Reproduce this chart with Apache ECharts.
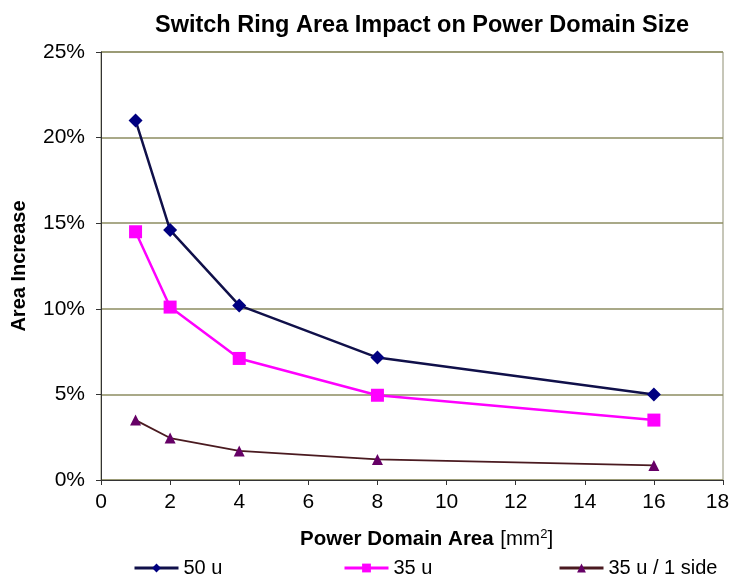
<!DOCTYPE html>
<html>
<head>
<meta charset="utf-8">
<script src="https://cdn.jsdelivr.net/npm/echarts@6/dist/echarts.min.js"></script>
<style>
html,body{margin:0;padding:0;background:#fff;}
#chart{width:731px;height:578px;}
</style>
</head>
<body>
<div id="chart"></div>
<script>
var xValues = [1, 2, 4, 8, 16];
var series50u = [21.0, 14.6, 10.2, 7.15, 5.0];
var series35u = [14.5, 10.1, 7.1, 4.95, 3.5];
var series35u1side = [3.5, 2.45, 1.7, 1.2, 0.85];
var seriesNames = ['50 u', '35 u', '35 u / 1 side'];
var xTicks = [0, 2, 4, 6, 8, 10, 12, 14, 16, 18];
var yTicks = [0, 5, 10, 15, 20, 25];

function pairs(vals) { return xValues.map(function (x, i) { return [x, vals[i]]; }); }

var FONT = 'Liberation Sans, Arial, sans-serif';
var X_MAX = xTicks[xTicks.length - 1];
var chart = echarts.init(document.getElementById('chart'));
function legendFor(i, left) {
  return {
    left: left, top: 558, padding: 0, itemWidth: 44, itemHeight: 11, itemGap: 6,
    textStyle: { fontFamily: FONT, fontSize: 20, color: '#000' },
    lineStyle: { width: 3 },
    selectedMode: false,
    data: [seriesNames[i]]
  };
}
chart.setOption({
  backgroundColor: '#ffffff',
  animation: false,
  title: {
    text: 'Switch Ring Area Impact on Power Domain Size',
    left: 417, top: 9, textAlign: 'center',
    textStyle: { fontFamily: FONT, fontSize: 23.5, fontWeight: 'bold', color: '#000' }
  },
  grid: { left: 101, right: 8, top: 52, bottom: 98, containLabel: false, outerBoundsMode: 'none',
          show: true, borderColor: '#8e8e72', borderWidth: 1 },
  legend: [legendFor(0, 133), legendFor(1, 343), legendFor(2, 558)],
  xAxis: {
    type: 'value', min: xTicks[0], max: X_MAX, interval: 2,
    axisLine: { show: true, lineStyle: { color: '#333', width: 1 } },
    axisTick: { show: true, length: 5, lineStyle: { color: '#333' } },
    axisLabel: {
      fontFamily: FONT, fontSize: 21, color: '#000', margin: 12,
      formatter: function (v) { return v === X_MAX ? '{m|' + v + '}' : String(v); },
      rich: { m: { fontFamily: FONT, fontSize: 21, color: '#000', padding: [0, 11, 0, 0] } }
    },
    splitLine: { show: false }
  },
  yAxis: {
    type: 'value', min: yTicks[0], max: yTicks[yTicks.length - 1], interval: 5,
    name: 'Area Increase', nameLocation: 'middle', nameGap: 72, nameRotate: 90,
    nameTextStyle: { fontFamily: FONT, fontSize: 20, fontWeight: 'bold', color: '#000' },
    axisLine: { show: true, lineStyle: { color: '#333', width: 1 } },
    axisTick: { show: true, length: 5, lineStyle: { color: '#333' } },
    axisLabel: { fontFamily: FONT, fontSize: 21, color: '#000', margin: 16, formatter: '{value}%' },
    splitLine: { show: true, lineStyle: { color: '#8c8c60', width: 1.5 } }
  },
  graphic: [{
    type: 'text', left: 300, top: 528,
    style: {
      text: '{b|Power Domain Area}  {n|[mm}{s|2}{n|]}',
      rich: {
        b: { fontFamily: FONT, fontSize: 20.5, fontWeight: 'bold', fill: '#000' },
        n: { fontFamily: FONT, fontSize: 20.5, fill: '#000' },
        s: { fontFamily: FONT, fontSize: 13, fill: '#000', verticalAlign: 'top', padding: [0, 0, 10, 0] }
      }
    }
  }],
  series: [
    { name: seriesNames[0], type: 'line', data: pairs(series50u),
      symbol: 'diamond', symbolSize: 14,
      lineStyle: { color: '#10104a', width: 2.5 },
      itemStyle: { color: '#000080' } },
    { name: seriesNames[1], type: 'line', data: pairs(series35u),
      symbol: 'rect', symbolSize: 13,
      lineStyle: { color: '#ff00ff', width: 2.5 },
      itemStyle: { color: '#ff00ff' } },
    { name: seriesNames[2], type: 'line', data: pairs(series35u1side),
      symbol: 'triangle', symbolSize: 11,
      lineStyle: { color: '#4a1a20', width: 1.8 },
      itemStyle: { color: '#660066' } }
  ]
});
</script>
</body>
</html>
